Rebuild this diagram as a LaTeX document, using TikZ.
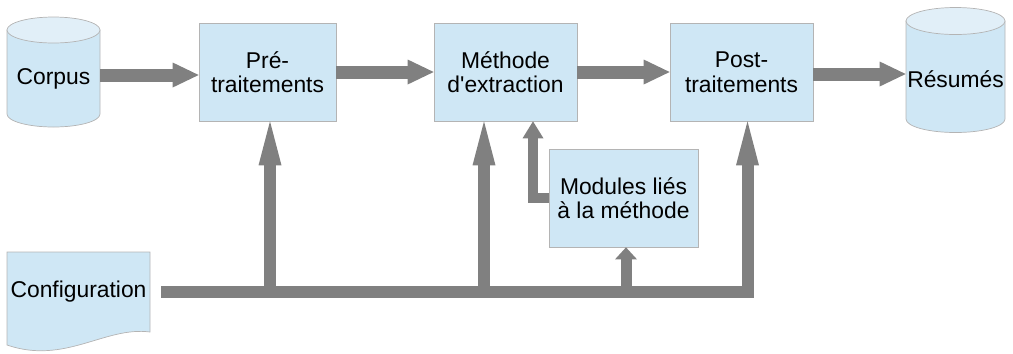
\documentclass[tikz,border=0pt]{standalone}
\usepackage{fontspec}
\setmainfont{Liberation Sans}
\usetikzlibrary{arrows.meta}

\definecolor{paleblue}{HTML}{CFE7F5}
\definecolor{capblue}{HTML}{E1EFF8}
\definecolor{edgegray}{HTML}{B4B4B4}
\definecolor{flowgray}{HTML}{808080}

\begin{document}
\begin{tikzpicture}[
        font=\fontsize{13}{14}\selectfont,
        box/.style={draw=edgegray, fill=paleblue, align=center, inner sep=0pt, minimum width=2.86cm, minimum height=1.96cm},
        label/.style={align=center, inner sep=0pt},
        flow/.style={draw=flowgray, line width=0.26cm, -{Triangle[length=0.52cm, width=0.5cm, line width=0pt]}},
        feed/.style={draw=flowgray, line width=0.24cm, -{Triangle[length=0.88cm, width=0.46cm, line width=0pt]}},
        modfeed/.style={draw=flowgray, line width=0.22cm, -{Triangle[length=0.24cm, width=0.44cm, line width=0pt]}},
        back/.style={draw=flowgray, line width=0.21cm, -{Triangle[length=0.34cm, width=0.42cm, line width=0pt]}},
    ]
        \useasboundingbox (0,0) rectangle (20.26,-7.06);

        % Corpus
        \draw[edgegray, fill=paleblue] (0.14,-0.6) -- (0.14,-2.28) arc[start angle=180, end angle=360, x radius=0.93, y radius=0.26] -- (2.0,-0.6) -- cycle;
        \draw[edgegray, fill=capblue] (1.07,-0.6) ellipse [x radius=0.93, y radius=0.26];
        \node[label, minimum width=1.86cm](corpus) at (1.07,-1.58) {Corpus};

        % Résumés
        \draw[edgegray, fill=paleblue] (18.12,-0.42) -- (18.12,-2.38) arc[start angle=180, end angle=360, x radius=0.99, y radius=0.27] -- (20.1,-0.42) -- cycle;
        \draw[edgegray, fill=capblue] (19.11,-0.42) ellipse [x radius=0.99, y radius=0.27];
        \node[label, minimum width=1.98cm](resumes) at (19.11,-1.58) {Résumés};

        % Configuration
        \draw[edgegray, fill=paleblue] (0.14,-5.04) -- (3.0,-5.04) -- (3.0,-6.64) .. controls (2.1,-6.52) and (1.3,-7.3) .. (0.14,-6.9) -- cycle;
        \node[label, minimum width=2.86cm, minimum height=1.6cm](config) at (1.57,-5.84) {Configuration};

        % chain
        \node[box, minimum width=2.74cm](pre) at (5.35,-1.44) {Pré-\\traitements};
        \node[box](meth) at (10.11,-1.44) {Méthode\\d\textquotesingle extraction};
        \node[box](post) at (14.83,-1.44) {Post-\\traitements};
        \node[box, minimum width=2.98cm](mod) at (12.47,-3.96) {Modules liés\\à la méthode};

        \draw[flow] ([yshift=-0.06cm]pre.west -| corpus.east) -- ([yshift=-0.06cm]pre.west);
        \draw[flow] (pre.east) -- (meth.west);
        \draw[flow] (meth.east) -- (post.west);
        \draw[flow] ([yshift=-0.04cm]post.east) -- ([yshift=-0.04cm]post.east -| resumes.west);

        % configuration bus
        \coordinate (busin) at ([xshift=0.22cm]config.east);
        \coordinate (prein) at ([xshift=0.05cm]pre.south);
        \coordinate (methin) at ([xshift=-0.43cm]meth.south);
        \coordinate (modin) at ([xshift=0.05cm]mod.south);
        \coordinate (postin) at ([xshift=0.12cm]post.south);
        \draw[feed, line join=miter] (busin) -| (postin);
        \draw[feed] (prein |- busin) -- (prein);
        \draw[feed] (methin |- busin) -- (methin);
        \draw[modfeed] (modin |- busin) -- (modin);

        % modules back to the method
        \coordinate (modout) at ([xshift=0.55cm]meth.south);
        \draw[back, line join=miter] (mod.west) -| (modout);

    \end{tikzpicture}
\end{document}
